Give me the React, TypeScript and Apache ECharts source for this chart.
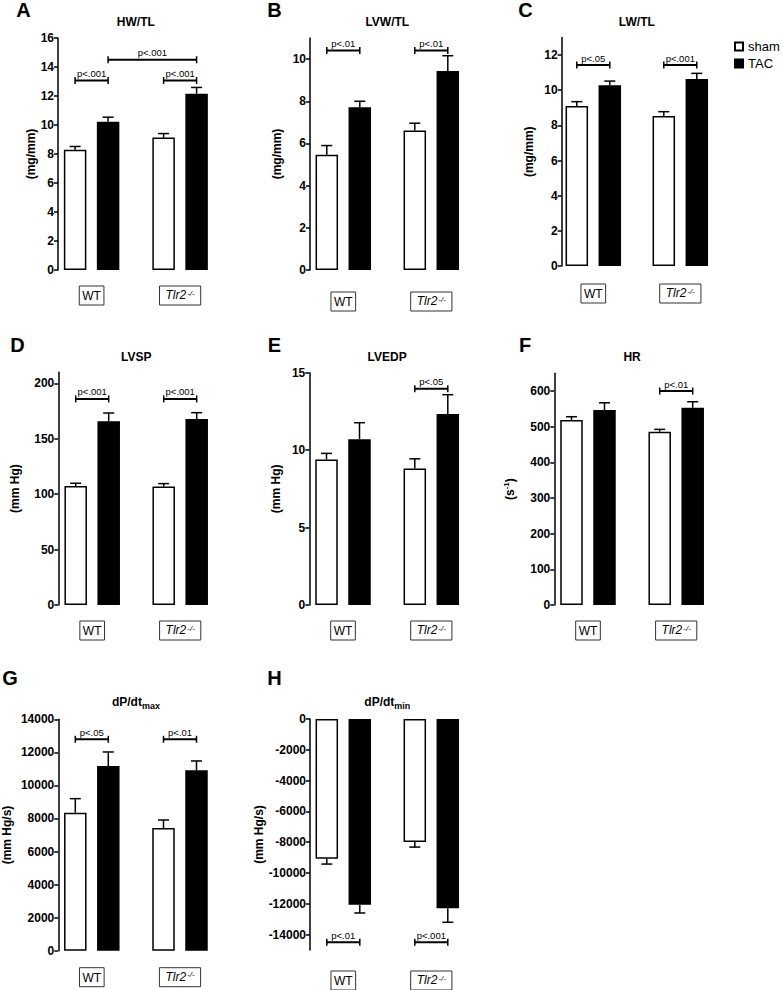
import React, { useEffect, useRef } from 'react';
import * as echarts from 'echarts';

const FONT = '"Liberation Sans", Arial, Helvetica, sans-serif';

// ---------- data ----------
const groups = ['WT', 'Tlr2-/-'];
const legendNames = ['sham', 'TAC'];

// A  HW/TL
const hwtlSham = [8.3, 9.13];
const hwtlShamSem = [0.22, 0.28];
const hwtlTac = [10.22, 12.15];
const hwtlTacSem = [0.32, 0.44];
const hwtlTicks = [0, 2, 4, 6, 8, 10, 12, 14, 16];
const hwtlSig = [
  { from: [0, 0], to: [0, 1], y: 13.07, text: 'p<.001' },
  { from: [1, 0], to: [1, 1], y: 13.07, text: 'p<.001' },
  { from: [0, 1], to: [1, 1], y: 14.5, text: 'p<.001' },
];

// B  LVW/TL
const lvwtlSham = [5.46, 6.61];
const lvwtlShamSem = [0.44, 0.35];
const lvwtlTac = [7.72, 9.43];
const lvwtlTacSem = [0.28, 0.73];
const lvwtlTicks = [0, 2, 4, 6, 8, 10];
const lvwtlSig = [
  { from: [0, 0], to: [0, 1], y: 10.41, text: 'p<.01' },
  { from: [1, 0], to: [1, 1], y: 10.41, text: 'p<.01' },
];

// C  LW/TL
const lwtlSham = [9.1, 8.53];
const lwtlShamSem = [0.25, 0.25];
const lwtlTac = [10.29, 10.64];
const lwtlTacSem = [0.23, 0.32];
const lwtlTicks = [0, 2, 4, 6, 8, 10, 12];
const lwtlSig = [
  { from: [0, 0], to: [0, 1], y: 11.43, text: 'p<.05' },
  { from: [1, 0], to: [1, 1], y: 11.43, text: 'p<.001' },
];

// D  LVSP
const lvspSham = [107.4, 106.8];
const lvspShamSem = [2.4, 2.7];
const lvspTac = [165.7, 167.8];
const lvspTacSem = [7.5, 5.7];
const lvspTicks = [0, 50, 100, 150, 200];
const lvspSig = [
  { from: [0, 0], to: [0, 1], y: 185.9, text: 'p<.001' },
  { from: [1, 0], to: [1, 1], y: 185.9, text: 'p<.001' },
];

// E  LVEDP
const lvedpSham = [9.4, 8.82];
const lvedpShamSem = [0.39, 0.62];
const lvedpTac = [10.71, 12.33];
const lvedpTacSem = [1.06, 1.25];
const lvedpTicks = [0, 5, 10, 15];
const lvedpSig = [{ from: [1, 0], to: [1, 1], y: 13.96, text: 'p<.05' }];

// F  HR
const hrSham = [518.7, 486];
const hrShamSem = [9.3, 6.5];
const hrTac = [546.7, 553];
const hrTacSem = [20.3, 17];
const hrTicks = [0, 100, 200, 300, 400, 500, 600];
const hrSig = [{ from: [1, 0], to: [1, 1], y: 600, text: 'p<.01' }];

// G  dP/dt max
const dpMaxSham = [8352, 7424];
const dpMaxShamSem = [847, 484];
const dpMaxTac = [11176, 10914];
const dpMaxTacSem = [847, 565];
const dpMaxTicks = [0, 2000, 4000, 6000, 8000, 10000, 12000, 14000];
const dpMaxSig = [
  { from: [0, 0], to: [0, 1], y: 12790, text: 'p<.05' },
  { from: [1, 0], to: [1, 1], y: 12790, text: 'p<.01' },
];

// H  dP/dt min
const dpMinSham = [-9074, -7994];
const dpMinShamSem = [346, 324];
const dpMinTac = [-12055, -12293];
const dpMinTacSem = [541, 907];
const dpMinTicks = [0, -2000, -4000, -6000, -8000, -10000, -12000, -14000];
const dpMinSig = [
  { from: [0, 0], to: [0, 1], y: -14500, text: 'p<.01' },
  { from: [1, 0], to: [1, 1], y: -14500, text: 'p<.001' },
];

// ---------- panels (data refs + layout) ----------
const panels = [
  { letter: 'A', title: 'HW/TL', yName: '(mg/mm)', sham: hwtlSham, shamSem: hwtlShamSem, tac: hwtlTac, tacSem: hwtlTacSem, ticks: hwtlTicks, sig: hwtlSig, min: 0, max: 16,
    axisX: 58, c1: 91.6, band: 88.5, top: 38, bottom: 270, nameGap: 21, letterPos: [23.5, 10], titleY: 21.5, labelMargin: 16 },
  { letter: 'B', title: 'LVW/TL', yName: '(mg/mm)', sham: lvwtlSham, shamSem: lvwtlShamSem, tac: lvwtlTac, tacSem: lvwtlTacSem, ticks: lvwtlTicks, sig: lvwtlSig, min: 0, max: 11,
    axisX: 310, c1: 343.3, band: 88, top: 38, bottom: 270, nameGap: 27, letterPos: [274.5, 10], titleY: 21.5, labelMargin: 22 },
  { letter: 'C', title: 'LW/TL', yName: '(mg/mm)', sham: lwtlSham, shamSem: lwtlShamSem, tac: lwtlTac, tacSem: lwtlTacSem, ticks: lwtlTicks, sig: lwtlSig, min: 0, max: 13,
    axisX: 561.7, c1: 593.3, band: 87, top: 37.5, bottom: 266, nameGap: 27, letterPos: [525.5, 10], titleY: 21.5, labelMargin: 18 },
  { letter: 'D', title: 'LVSP', yName: '(mm Hg)', sham: lvspSham, shamSem: lvspShamSem, tac: lvspTac, tacSem: lvspTacSem, ticks: lvspTicks, sig: lvspSig, min: 0, max: 210,
    axisX: 58.3, c1: 92.2, band: 88, top: 372.2, bottom: 605, nameGap: 37, letterPos: [17.5, 345], titleY: 356.5, labelMargin: 16 },
  { letter: 'E', title: 'LVEDP', yName: '(mm Hg)', sham: lvedpSham, shamSem: lvedpShamSem, tac: lvedpTac, tacSem: lvedpTacSem, ticks: lvedpTicks, sig: lvedpSig, min: 0, max: 15,
    axisX: 309.3, c1: 343, band: 88.3, top: 372.7, bottom: 605, nameGap: 27, letterPos: [274.5, 345], titleY: 356.5, labelMargin: 16 },
  { letter: 'F', title: 'HR', yName: '{a|(s}{b|-1}{a|)}', sham: hrSham, shamSem: hrShamSem, tac: hrTac, tacSem: hrTacSem, ticks: hrTicks, sig: hrSig, min: 0, max: 650,
    axisX: 554.3, c1: 588, band: 88.2, top: 373.2, bottom: 605, nameGap: 38, letterPos: [525, 345], titleY: 356.5, labelMargin: 16 },
  { letter: 'G', title: '{a|dP/dt}{b|max}', yName: '(mm Hg/s)', sham: dpMaxSham, shamSem: dpMaxShamSem, tac: dpMaxTac, tacSem: dpMaxTacSem, ticks: dpMaxTicks, sig: dpMaxSig, min: 0, max: 14000,
    axisX: 58.3, c1: 91.8, band: 88.2, top: 719.3, bottom: 950.7, nameGap: 45, letterPos: [10, 677.5], titleY: 703, labelMargin: 17 },
  { letter: 'H', title: '{a|dP/dt}{b|min}', yName: '(mm Hg/s)', sham: dpMinSham, shamSem: dpMinShamSem, tac: dpMinTac, tacSem: dpMinTacSem, ticks: dpMinTicks, sig: dpMinSig, min: -15000, max: 0,
    axisX: 310, c1: 343.3, band: 88, top: 719, bottom: 950, nameGap: 44, letterPos: [274.5, 677.5], titleY: 703, labelMargin: 21 },
];

const BAR_W = 22.5;
const BAR_GAP = 10.5;
const HALF = (BAR_W + BAR_GAP) / 2;

function errorRenderer(dx: number) {
  return (params: any, api: any) => {
    const cat = api.value(0);
    const m = api.value(1);
    const e = api.value(2);
    const end = m + (m < 0 ? -e : e);
    const p0 = api.coord([cat, m]);
    const p1 = api.coord([cat, end]);
    const x = p0[0] + dx;
    const style = { stroke: '#000', lineWidth: 1.5, fill: 'none' };
    return {
      type: 'group',
      children: [
        { type: 'line', shape: { x1: x, y1: p0[1], x2: x, y2: p1[1] }, style },
        { type: 'line', shape: { x1: x - 5.5, y1: p1[1], x2: x + 5.5, y2: p1[1] }, style },
      ],
    };
  };
}

function bracketRenderer(texts: string[]) {
  return (params: any, api: any) => {
    const a = api.coord([api.value(0), api.value(4)]);
    const b = api.coord([api.value(2), api.value(4)]);
    const x1 = a[0] + (api.value(1) ? HALF : -HALF);
    const x2 = b[0] + (api.value(3) ? HALF : -HALF);
    const y = a[1];
    const style = { stroke: '#000', lineWidth: 2, fill: 'none' };
    return {
      type: 'group',
      children: [
        { type: 'line', shape: { x1, y1: y, x2, y2: y }, style },
        { type: 'line', shape: { x1, y1: y - 3.5, x2: x1, y2: y + 3.5 }, style: { stroke: '#000', lineWidth: 1.5 } },
        { type: 'line', shape: { x1: x2, y1: y - 3.5, x2, y2: y + 3.5 }, style: { stroke: '#000', lineWidth: 1.5 } },
        {
          type: 'text',
          x: (x1 + x2) / 2,
          y: y - 2,
          style: {
            text: texts[params.dataIndex],
            fill: '#000',
            font: '9.5px ' + FONT,
            align: 'center',
            verticalAlign: 'bottom',
            textAlign: 'center',
            textVerticalAlign: 'bottom',
          },
        },
      ],
    };
  };
}

function buildOption() {
  const grid: any[] = [];
  const xAxis: any[] = [];
  const yAxis: any[] = [];
  const series: any[] = [];
  const graphic: any[] = [];

  panels.forEach((p, i) => {
    const left = p.c1 - p.band / 2;
    grid.push({
      left,
      top: p.top,
      width: p.band * 2,
      height: p.bottom - p.top,
      containLabel: false,
      outerBoundsMode: 'none',
    });
    xAxis.push({
      gridIndex: i,
      type: 'category',
      data: groups,
      position: 'bottom',
      axisLine: { show: false, onZero: false },
      axisTick: { show: false },
      splitLine: { show: false },
      axisLabel: {
        margin: p.labelMargin,
        color: '#000',
        fontFamily: FONT,
        fontSize: 12,
        borderColor: '#333',
        borderWidth: 1,
        padding: [3, 3, 2, 3],
        formatter: (v: string) => (v === 'WT' ? '{w|WT}' : '{i|Tlr2}{s|-/-}'),
        rich: {
          w: { fontSize: 12, fontFamily: FONT, color: '#000', lineHeight: 14 },
          i: { fontSize: 12, fontFamily: FONT, fontStyle: 'italic', color: '#000', lineHeight: 14, padding: [0, 0, 0, 3], verticalAlign: 'top' },
          s: { fontSize: 8, fontFamily: FONT, fontStyle: 'italic', color: '#000', verticalAlign: 'top', lineHeight: 9, padding: [0, 3, 0, 1] },
        },
      },
    });
    yAxis.push({
      gridIndex: i,
      type: 'value',
      min: p.min,
      max: p.max,
      offset: -(p.axisX - left),
      splitLine: { show: false },
      axisLine: { show: true, lineStyle: { color: '#000', width: 1.5 } },
      axisTick: { show: true, length: 4, lineStyle: { color: '#000', width: 1.5 }, customValues: p.ticks },
      axisLabel: {
        customValues: p.ticks,
        margin: 4,
        color: '#000',
        fontFamily: FONT,
        fontSize: 12,
        fontWeight: 'bold',
        formatter: (v: number) => String(v),
      },
      name: p.yName,
      nameLocation: 'middle',
      nameGap: p.nameGap,
      nameRotate: 90,
      nameTextStyle: {
        color: '#000',
        fontFamily: FONT,
        fontSize: 12,
        fontWeight: 'bold',
        rich: {
          a: { fontSize: 12, fontWeight: 'bold', fontFamily: FONT, color: '#000', lineHeight: 14, verticalAlign: 'bottom' },
          b: { fontSize: 8, fontWeight: 'bold', fontFamily: FONT, color: '#000', lineHeight: 8, verticalAlign: 'top' },
        },
      },
    });
    series.push({
      type: 'bar',
      name: legendNames[0],
      xAxisIndex: i,
      yAxisIndex: i,
      data: p.sham,
      barWidth: BAR_W,
      barGap: (BAR_GAP / BAR_W) * 100 + '%',
      itemStyle: { color: '#fff', borderColor: '#000', borderWidth: 1.5 },
      z: 3,
    });
    series.push({
      type: 'bar',
      name: legendNames[1],
      xAxisIndex: i,
      yAxisIndex: i,
      data: p.tac,
      barWidth: BAR_W,
      barGap: (BAR_GAP / BAR_W) * 100 + '%',
      itemStyle: { color: '#000', borderColor: '#000', borderWidth: 1.5 },
      z: 3,
    });
    series.push({
      type: 'custom',
      xAxisIndex: i,
      yAxisIndex: i,
      renderItem: errorRenderer(-HALF),
      data: p.sham.map((v, k) => [k, v, p.shamSem[k]]),
      z: 2,
      silent: true,
    });
    series.push({
      type: 'custom',
      xAxisIndex: i,
      yAxisIndex: i,
      renderItem: errorRenderer(HALF),
      data: p.tac.map((v, k) => [k, v, p.tacSem[k]]),
      z: 2,
      silent: true,
    });
    series.push({
      type: 'custom',
      xAxisIndex: i,
      yAxisIndex: i,
      renderItem: bracketRenderer(p.sig.map((s) => s.text)),
      data: p.sig.map((s) => [s.from[0], s.from[1], s.to[0], s.to[1], s.y]),
      z: 4,
      silent: true,
    });

    graphic.push({
      type: 'text',
      x: p.letterPos[0],
      y: p.letterPos[1],
      style: {
        text: p.letter,
        fill: '#000',
        font: 'bold 20px ' + FONT,
        align: 'center',
        verticalAlign: 'middle',
        textAlign: 'center',
        textVerticalAlign: 'middle',
      },
    });
    graphic.push({
      type: 'text',
      x: p.c1 + p.band / 2,
      y: p.titleY,
      style: {
        text: p.title,
        fill: '#000',
        font: 'bold 12px ' + FONT,
        align: 'center',
        verticalAlign: 'middle',
        textAlign: 'center',
        textVerticalAlign: 'middle',
        rich: {
          a: { fontSize: 12, fontWeight: 'bold', fontFamily: FONT, fill: '#000', lineHeight: 14, verticalAlign: 'top' },
          b: { fontSize: 9, fontWeight: 'bold', fontFamily: FONT, fill: '#000', lineHeight: 9, padding: [10, 0, 0, 0], verticalAlign: 'bottom' },
        },
      },
    });
  });

  return {
    animation: false,
    backgroundColor: '#fff',
    legend: {
      data: legendNames,
      orient: 'vertical',
      left: 734,
      top: 40,
      icon: 'rect',
      itemWidth: 8,
      itemHeight: 8,
      itemGap: 4,
      padding: 0,
      selectedMode: false,
      textStyle: { color: '#000', fontFamily: FONT, fontSize: 13 },
    },
    grid,
    xAxis,
    yAxis,
    series,
    graphic,
  };
}

export default function App() {
  const ref = useRef<HTMLDivElement>(null);
  useEffect(() => {
    if (!ref.current) return;
    const chart = echarts.init(ref.current, undefined, { renderer: 'svg' });
    chart.setOption(buildOption() as any);
    return () => chart.dispose();
  }, []);
  return (
    <div
      ref={ref}
      style={{ position: 'fixed', left: 0, top: 0, width: 783, height: 990, background: '#fff' }}
    />
  );
}
